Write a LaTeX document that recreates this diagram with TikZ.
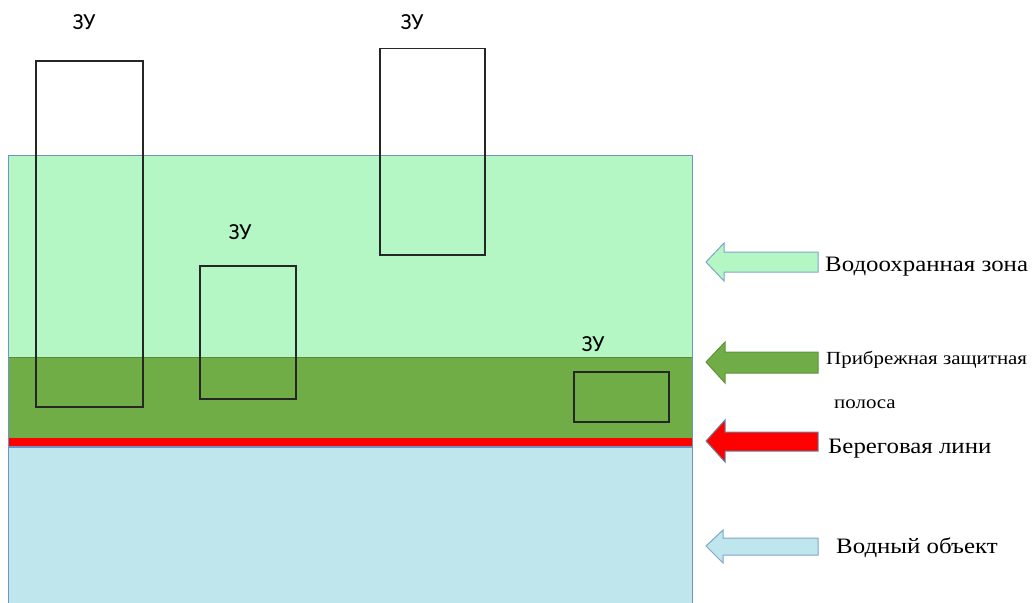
\documentclass[tikz,border=0pt]{standalone}
\usepackage{fontspec}
\setmainfont{Liberation Serif}[FakeStretch=1.13]
\newfontfamily\zufont{Carlito}
\definecolor{lgreen}{HTML}{B4F6C4}
\definecolor{dgreen}{HTML}{70AD47}
\definecolor{lblue}{HTML}{BEE6EC}
\definecolor{zborder}{HTML}{6F93C4}
\definecolor{aborder}{HTML}{7EA6C8}
\begin{document}
\begin{tikzpicture}[x=1pt,y=-1pt,
  zone/.style={draw=zborder,line width=0.8pt},
  zu/.style={draw=black!85,line width=1.5pt},
  zulabel/.style={font=\zufont\fontsize{23}{26}\selectfont,inner sep=0pt},
  rlabel/.style={font=\fontsize{22}{26}\selectfont,anchor=west,inner sep=0pt},
  slabel/.style={font=\fontsize{18.5}{22}\selectfont,anchor=west,inner sep=0pt},
  blockarrow/.style={line width=1pt,line join=miter}]
\useasboundingbox (0,0) rectangle (1032,602);
% zones
\path[zone,fill=lgreen] (8,155) rectangle (692,357);
\path[zone,fill=dgreen,draw=dgreen!80!black] (8,357) rectangle (692,438);
\path[zone,fill=lblue] (8,447) rectangle (692,605);
\path[fill=red] (8,438) rectangle (692,446);
\draw[zborder,line width=0.6pt] (8,446.5) -- (692,446.5);
\draw[zborder,line width=0.8pt] (8,155) -- (8,602) (692,155) -- (692,602);
% ZU plots
\node[zu,minimum width=107,minimum height=346,inner sep=0pt,anchor=north west] (zu1) at (35,60) {};
\node[zu,minimum width=105,minimum height=206,inner sep=0pt,anchor=north west] (zu2) at (379,48) {};
\node[zu,minimum width=96,minimum height=133,inner sep=0pt,anchor=north west] (zu3) at (199,265) {};
\node[zu,minimum width=95,minimum height=50,inner sep=0pt,anchor=north west] (zu4) at (573,371) {};
\node[zulabel] (l1) at (84,22) {ЗУ};
\node[zulabel] (l2) at (412,22) {ЗУ};
\node[zulabel] (l3) at (240,232) {ЗУ};
\node[zulabel] (l4) at (593,344) {ЗУ};
% arrows
\draw[blockarrow,fill=lgreen,draw=aborder] (706,262) -- (724,243) -- (724,252) -- (818,252) -- (818,272) -- (724,272) -- (724,281) -- cycle;
\draw[blockarrow,fill=dgreen,draw=dgreen!85!black] (706,362) -- (725,342) -- (725,352) -- (818,352) -- (818,373) -- (725,373) -- (725,383) -- cycle;
\draw[blockarrow,fill=red,draw=aborder!80!black] (706,441) -- (725,420) -- (725,432) -- (818,432) -- (818,451) -- (725,451) -- (725,462) -- cycle;
\draw[blockarrow,fill=lblue,draw=aborder] (706,546) -- (723,530) -- (723,538) -- (818,538) -- (818,555) -- (723,555) -- (723,563) -- cycle;
% labels
\node[rlabel] (t1) at (825,267) {Водоохранная зона};
\node[slabel] (t2) at (826,360) {Прибрежная защитная};
\node[slabel] (t3) at (834,404) {полоса};
\node[rlabel] (t4) at (828,449) {Береговая лини};
\node[rlabel] (t5) at (836,548) {Водный объект};
\end{tikzpicture}
\end{document}
